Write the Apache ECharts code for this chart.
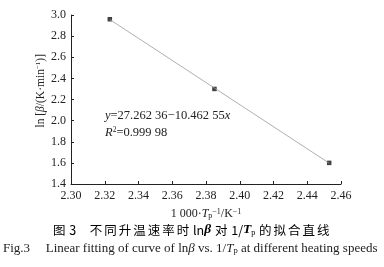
<!DOCTYPE html>
<html><head><meta charset="utf-8">
<script src="https://cdn.jsdelivr.net/npm/echarts@6/dist/echarts.min.js"></script>
<style>html,body{margin:0;padding:0;background:#fff}#c{width:384px;height:267px}</style>
</head><body><div id="c"></div>
<script>
const xVals = [2.323, 2.385, 2.453];
const yVals = [2.96, 2.30, 1.60];
const fitX = [2.323, 2.453];
const fitY = [2.957, 1.597];
const xTicks = {min: 2.30, max: 2.46, interval: 0.02};
const yTicks = {min: 1.4, max: 3.0, interval: 0.2};
const eqText = '27.262 36\u221210.462 55';
const r2Text = '0.999 98';

const serif = '"Liberation Serif","Times New Roman",serif';
const cjk = '"Noto Sans CJK SC", sans-serif';
const chart = echarts.init(document.getElementById('c'), null, {renderer: 'canvas'});
const axisCommon = {
  axisLine: {show: true, lineStyle: {color: '#222', width: 1}},
  axisTick: {show: true, inside: true, length: 3, lineStyle: {color: '#222'}},
  splitLine: {show: false},
  axisLabel: {color: '#222', fontFamily: serif, fontSize: 12}
};
const wrapC = s => s.split('').map(ch => '{c|' + ch + '}').join('');
const titleText = wrapC('图') + '{n| 3\u2002\u2002}' + wrapC('不同升温速率时') + '{n| ln}{b|\u03b2}{n| }' +
  wrapC('对') + '{n| 1/}{b|T}{sub|p}{n| }' + wrapC('的拟合直线');

chart.setOption({
  animation: false,
  backgroundColor: '#fff',
  grid: {left: 71, top: 15, right: 43, bottom: 83},
  xAxis: Object.assign({type: 'value', min: xTicks.min, max: xTicks.max, interval: xTicks.interval,
    name: '1 000\u00b7{i|T}{sub|p}{sup|\u22121}/K{sup|\u22121}', nameLocation: 'middle', nameGap: 24,
    nameTextStyle: {fontFamily: serif, fontSize: 12, color: '#222',
      rich: {i: {fontStyle: 'italic', fontFamily: serif, fontSize: 12},
             sub: {fontSize: 8, fontFamily: serif, verticalAlign: 'bottom', padding: [4,0,0,0]},
             sup: {fontSize: 8, fontFamily: serif, verticalAlign: 'top', padding: [0,0,4,0]}}}
  }, axisCommon, {axisLabel: Object.assign({}, axisCommon.axisLabel, {margin: 6, formatter: v => v.toFixed(2)})}),
  yAxis: Object.assign({type: 'value', min: yTicks.min, max: yTicks.max, interval: yTicks.interval},
    axisCommon, {axisLabel: Object.assign({}, axisCommon.axisLabel, {margin: 5, formatter: v => v.toFixed(1)})}),
  series: [
    {type: 'line', data: fitX.map((x, i) => [x, fitY[i]]), symbol: 'none',
     lineStyle: {color: '#9a9a9a', width: 0.8}, silent: true},
    {type: 'scatter', data: xVals.map((x, i) => [x, yVals[i]]), symbol: 'rect', symbolSize: 4.5,
     itemStyle: {color: '#111'}}
  ],
  graphic: [
    {type: 'text', left: 35, top: 54, rotation: Math.PI / 2,
     style: {text: 'ln [{i|\u03b2}/(K\u00b7min{sup|\u22121})]', font: '11.5px ' + serif, fill: '#222',
       rich: {i: {fontStyle: 'italic', fontFamily: serif, fontSize: 11.5},
              sup: {fontSize: 7, fontFamily: serif, verticalAlign: 'top'}}}},
    {type: 'text', left: 105, top: 109,
     style: {text: '{i|y}=' + eqText + '{i|x}', font: '12.5px ' + serif, fill: '#222',
       rich: {i: {fontStyle: 'italic', fontFamily: serif, fontSize: 12.5}}}},
    {type: 'text', left: 105, top: 126,
     style: {text: '{i|R}{sup|2}=' + r2Text, font: '12.5px ' + serif, fill: '#222',
       rich: {i: {fontStyle: 'italic', fontFamily: serif, fontSize: 12.5},
              sup: {fontSize: 7.5, fontFamily: serif, verticalAlign: 'top'}}}},
    {type: 'text', left: 53, top: 223,
     style: {text: titleText, font: '12.5px ' + cjk, fill: '#000',
       rich: {c: {fontFamily: cjk, fontSize: 12.5, padding: [0, 1.0, 0, 1.0]},
              n: {fontFamily: cjk, fontSize: 12.5},
              b: {fontStyle: 'italic', fontWeight: 'bold', fontFamily: serif, fontSize: 13.5},
              sub: {fontSize: 8, fontFamily: serif, verticalAlign: 'bottom'}}}},
    {type: 'text', left: 3, top: 242,
     style: {text: 'Fig.3\u2003\u2009Linear fitting of curve of ln{i|\u03b2} vs. 1/{i|T}{sub|p} at different heating speeds',
       font: '13px ' + serif, fill: '#222',
       rich: {i: {fontStyle: 'italic', fontFamily: serif, fontSize: 13},
              sub: {fontSize: 8.5, fontFamily: serif, verticalAlign: 'bottom'}}}}
  ]
});
</script></body></html>
